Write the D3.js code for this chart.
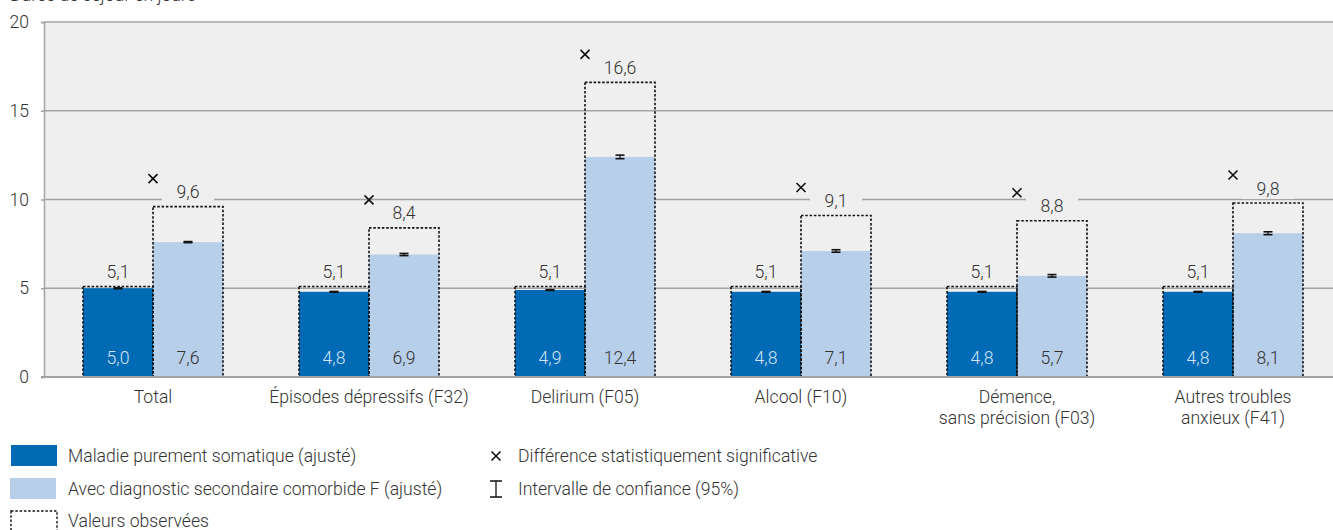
<!DOCTYPE html>
<html>
<head>
<meta charset="utf-8">
<script src="https://cdn.jsdelivr.net/npm/d3@7"></script>
<style>
  html, body { margin: 0; padding: 0; background: #fff; }
  svg { display: block; font-family: Roboto, "Noto Sans", sans-serif; font-weight: 300; }
</style>
</head>
<body>
<svg id="chart" width="1333" height="530"></svg>
<script>
// Diagnostic groups (x axis), one line per array entry
const categories = [
  ["Total"],
  ["Épisodes dépressifs (F32)"],
  ["Delirium (F05)"],
  ["Alcool (F10)"],
  ["Démence,", "sans précision (F03)"],
  ["Autres troubles", "anxieux (F41)"]
];
// Adjusted length of stay, in days
const somaticAdjusted  = [5.0, 4.8, 4.9, 4.8, 4.8, 4.8];
const comorbidAdjusted = [7.6, 6.9, 12.4, 7.1, 5.7, 8.1];
// Observed length of stay, in days
const somaticObserved  = [5.1, 5.1, 5.1, 5.1, 5.1, 5.1];
const comorbidObserved = [9.6, 8.4, 16.6, 9.1, 8.8, 9.8];
// 95% confidence intervals around the adjusted values
const somaticCiLow   = [4.98, 4.78, 4.88, 4.78, 4.78, 4.78];
const somaticCiHigh  = [5.02, 4.82, 4.92, 4.82, 4.82, 4.82];
const comorbidCiLow  = [7.57, 6.84, 12.30, 7.03, 5.63, 8.02];
const comorbidCiHigh = [7.63, 6.96, 12.50, 7.17, 5.77, 8.18];
// Groups with a statistically significant difference
const significant = [true, true, true, true, true, true];
// Y axis ticks
const yTicks = [0, 5, 10, 15, 20];

const fmt = v => d3.format(".1f")(v).replace(".", ",");

const svg = d3.select("#chart");
const plotLeft = 44, plotRight = 1333, plotTop = 22, plotBottom = 377;
const FS = 17.6;

const colDark = "#006ab4";
const colLight = "#b8cfea";
const bg = "#efefef";
const grid = "#a3a3a3";
const txt = "#333333";

// Axis title (runs off the top edge)
svg.append("text")
  .attr("x", 10).attr("y", 0.5)
  .attr("font-size", FS).attr("fill", txt)
  .text("Durée de séjour en jours");

const y = d3.scaleLinear().domain([0, 20]).range([plotBottom, plotTop]);
const x = d3.scaleBand()
  .domain(d3.range(categories.length))
  .range([45, 1341])
  .paddingInner(0.352)
  .paddingOuter(0.176);
const barW = x.bandwidth() / 2;

// plot background
svg.append("rect")
  .attr("x", plotLeft).attr("y", plotTop)
  .attr("width", plotRight - plotLeft).attr("height", plotBottom - plotTop)
  .attr("fill", bg);

// y axis with gridlines
const yAxis = d3.axisLeft(y).tickValues(yTicks).tickSize(3).tickPadding(12);
const gy = svg.append("g").attr("transform", `translate(${plotLeft},0)`).call(yAxis);
gy.select(".domain").attr("stroke", grid).attr("stroke-width", 1.5);
gy.selectAll(".tick line").attr("stroke", grid).attr("stroke-width", 1.5);
gy.selectAll(".tick text").attr("font-size", FS).attr("fill", txt)
  .attr("font-family", "Roboto, sans-serif").attr("font-weight", 300);

svg.append("g").selectAll("line.grid")
  .data(yTicks.filter(t => t > 0))
  .join("line")
  .attr("x1", plotLeft).attr("x2", plotRight)
  .attr("y1", d => y(d)).attr("y2", d => y(d))
  .attr("stroke", grid).attr("stroke-width", 1.5);

const groups = svg.append("g").selectAll("g.grp")
  .data(categories.map((c, i) => i))
  .join("g")
  .attr("class", "grp");

// adjusted bars
groups.append("rect")
  .attr("x", i => x(i)).attr("width", barW)
  .attr("y", i => y(somaticAdjusted[i]))
  .attr("height", i => y(0) - y(somaticAdjusted[i]))
  .attr("fill", colDark);
groups.append("rect")
  .attr("x", i => x(i) + barW).attr("width", barW)
  .attr("y", i => y(comorbidAdjusted[i]))
  .attr("height", i => y(0) - y(comorbidAdjusted[i]))
  .attr("fill", colLight);

// value labels inside bars
groups.append("text")
  .attr("x", i => x(i) + barW / 2).attr("y", y(0) - 13)
  .attr("text-anchor", "middle").attr("font-size", FS).attr("fill", "#d3e2f4")
  .text(i => fmt(somaticAdjusted[i]));
groups.append("text")
  .attr("x", i => x(i) + barW * 1.5).attr("y", y(0) - 13)
  .attr("text-anchor", "middle").attr("font-size", FS).attr("fill", txt)
  .text(i => fmt(comorbidAdjusted[i]));

// confidence interval marks
function ci(sel, lo, hi, off) {
  const cx = i => x(i) + barW * off;
  sel.append("line")
    .attr("x1", cx).attr("x2", cx)
    .attr("y1", i => y(lo[i])).attr("y2", i => y(hi[i]))
    .attr("stroke", "#111").attr("stroke-width", 1.2);
  [lo, hi].forEach(arr => {
    sel.append("line")
      .attr("x1", i => cx(i) - 4.5).attr("x2", i => cx(i) + 4.5)
      .attr("y1", i => y(arr[i])).attr("y2", i => y(arr[i]))
      .attr("stroke", "#111").attr("stroke-width", 1.6);
  });
}
ci(groups, somaticCiLow, somaticCiHigh, 0.5);
ci(groups, comorbidCiLow, comorbidCiHigh, 1.5);

// observed value labels (background breaks the gridlines)
function observedLabel(sel, vals, off) {
  sel.append("rect")
    .attr("x", i => x(i) + barW * off - 26).attr("width", 52)
    .attr("y", i => y(vals[i]) - 25).attr("height", 21)
    .attr("fill", bg);
  sel.append("text")
    .attr("x", i => x(i) + barW * off).attr("y", i => y(vals[i]) - 8.5)
    .attr("text-anchor", "middle").attr("font-size", FS).attr("fill", txt)
    .text(i => fmt(vals[i]));
}
observedLabel(groups, somaticObserved, 0.5);
observedLabel(groups, comorbidObserved, 1.5);

// observed value boxes (dotted)
function observedBox(sel, vals, off) {
  sel.append("rect")
    .attr("x", i => x(i) + barW * off).attr("width", barW)
    .attr("y", i => y(vals[i])).attr("height", i => y(0) - y(vals[i]))
    .attr("fill", "none").attr("stroke", "#111")
    .attr("stroke-width", 1.6).attr("stroke-dasharray", "2.5,1.8");
}
observedBox(groups, somaticObserved, 0);
observedBox(groups, comorbidObserved, 1);

// significance markers
function cross(sel, cx, cy, r) {
  sel.append("path")
    .attr("d", `M${cx - r},${cy - r}L${cx + r},${cy + r}M${cx + r},${cy - r}L${cx - r},${cy + r}`)
    .attr("stroke", "#111").attr("stroke-width", 1.6).attr("fill", "none");
}
groups.filter(i => significant[i]).each(function (i) {
  const ymax = Math.max(somaticObserved[i], comorbidObserved[i]);
  cross(d3.select(this), x(i) + barW, y(ymax) - 28, 4.5);
});

// x axis
svg.append("line")
  .attr("x1", plotLeft - 3).attr("x2", plotRight)
  .attr("y1", plotBottom).attr("y2", plotBottom)
  .attr("stroke", grid).attr("stroke-width", 2);

groups.append("text")
  .attr("text-anchor", "middle").attr("font-size", FS).attr("fill", txt)
  .attr("x", i => x(i) + barW)
  .selectAll("tspan")
  .data(i => categories[i].map(l => ({ l, x: x(i) + barW })))
  .join("tspan")
  .attr("x", d => d.x)
  .attr("y", (d, k) => 403 + k * 21)
  .text(d => d.l);

// legend
const leg = svg.append("g");
leg.append("rect").attr("x", 11).attr("y", 445).attr("width", 46).attr("height", 21).attr("fill", colDark);
leg.append("rect").attr("x", 10).attr("y", 478).attr("width", 46).attr("height", 21).attr("fill", colLight);
leg.append("rect").attr("x", 11).attr("y", 511).attr("width", 46).attr("height", 24)
  .attr("fill", "none").attr("stroke", "#111").attr("stroke-width", 1.4).attr("stroke-dasharray", "2.5,1.8");
const legText = [
  ["Maladie purement somatique (ajusté)", 68, 462],
  ["Avec diagnostic secondaire comorbide F (ajusté)", 68, 495],
  ["Valeurs observées", 68, 527],
  ["Différence statistiquement significative", 518, 462],
  ["Intervalle de confiance (95%)", 518, 495]
];
leg.selectAll("text.lt").data(legText).join("text")
  .attr("x", d => d[1]).attr("y", d => d[2])
  .attr("font-size", FS).attr("fill", txt).text(d => d[0]);
cross(leg, 496, 456, 4.5);
leg.append("path")
  .attr("d", "M490,481H502M496,481V497M490,497H502")
  .attr("stroke", "#111").attr("stroke-width", 1.3).attr("fill", "none");
</script>
</body>
</html>
